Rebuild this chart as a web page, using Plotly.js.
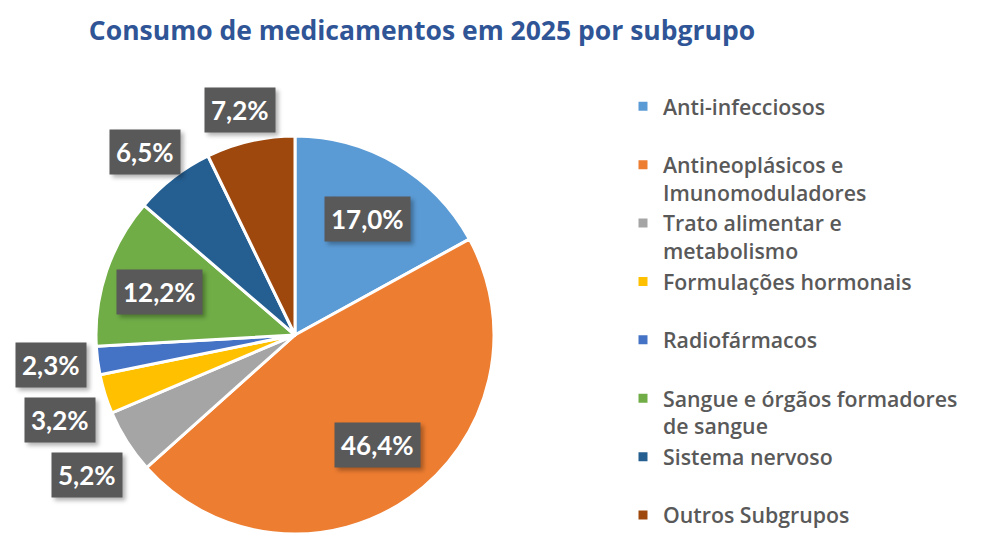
<!DOCTYPE html>
<html>
<head>
<meta charset="utf-8">
<script src="https://cdn.plot.ly/plotly-3.0.1.min.js"></script>
<style>html,body{margin:0;padding:0;background:#fff;}#chart{width:981px;height:534px;}</style>
</head>
<body>
<div id="chart"></div>
<script>
const titleText = "Consumo de medicamentos em 2025 por subgrupo";
const categories = [
  "Anti-infecciosos",
  "Antineoplásicos e<br>Imunomoduladores",
  "Trato alimentar e<br>metabolismo",
  "Formulações hormonais",
  "Radiofármacos",
  "Sangue e órgãos formadores<br>de sangue",
  "Sistema nervoso",
  "Outros Subgrupos"
];
const values = [17.0, 46.4, 5.2, 3.2, 2.3, 12.2, 6.5, 7.2];
const colors = ["#5B9BD5", "#ED7D31", "#A5A5A5", "#FFC000", "#4472C4", "#70AD47", "#255E91", "#9E480E"];

const W = 981, H = 534;
// pie domain in pixels
const pieLeft = 96, pieRight = 494, pieTop = 136, pieBottom = 534;
const cx = (pieLeft + pieRight) / 2, cy = (pieTop + pieBottom) / 2;
const R = (pieRight - pieLeft) / 2;

// legend labels: every item (except the last) occupies two lines
const legendLabels = categories.map((c, i) =>
  (c.indexOf("<br>") >= 0 || i === categories.length - 1) ? c : c + "<br> ");

const fmt = v => v.toFixed(1).replace(".", ",") + "%";

const total = values.reduce((a, b) => a + b, 0);
let cum = 0;
const labelPos = [];
values.forEach((v, i) => {
  const th = 2 * Math.PI * (cum + v / 2) / total;
  cum += v;
  const s = Math.sin(th), c = Math.cos(th);
  const txt = fmt(v);
  const bw = txt.length * 15 + 14, bh = 43;
  let px, py, inside = v / total >= 0.1;
  if (inside) {
    px = cx + 0.72 * R * s;
    py = cy - 0.68 * R * c;
  } else {
    const rr = R + 10;
    px = cx + rr * s + s * bw / 2;
    py = cy - rr * c - c * bh / 2;
  }
  labelPos.push({i, px, py, inside, txt, s});
});
// resolve overlaps of outside labels on the left side (going upward in slice order)
const leftOut = labelPos.filter(p => !p.inside && p.s < 0 && p.py > cy - 50).sort((a, b) => a.py - b.py);
for (let k = 1; k < leftOut.length; k++) {
  if (leftOut[k].py < leftOut[k - 1].py + 55) leftOut[k].py = leftOut[k - 1].py + 55;
}

const annotations = labelPos.map(p => ({
  xref: "paper", yref: "paper",
  x: p.px / W, y: 1 - p.py / H,
  xanchor: "center", yanchor: "middle",
  showarrow: false, text: p.txt,
  font: {family: "Lato, 'Open Sans', sans-serif", size: 26, weight: 700, color: "#FFFFFF"},
  bgcolor: "#595959",
  borderpad: 6
}));

const data = [{
  type: "pie",
  labels: legendLabels,
  values: values,
  sort: false,
  direction: "clockwise",
  rotation: 0,
  textinfo: "none",
  hoverinfo: "label+percent",
  marker: {colors: colors, line: {color: "#FFFFFF", width: 3}},
  domain: {x: [pieLeft / W, pieRight / W], y: [1 - pieBottom / H, 1 - pieTop / H]}
}];

const layout = {
  width: W, height: H,
  margin: {l: 0, r: 0, t: 0, b: 0, autoexpand: false},
  paper_bgcolor: "#FFFFFF",
  showlegend: true,
  title: {
    text: titleText,
    x: 422 / W, xanchor: "center", xref: "paper",
    y: 1 - 31 / H, yanchor: "middle", yref: "paper",
    font: {family: "'Open Sans', sans-serif", size: 26.5, weight: 700, color: "#2F5597"}
  },
  legend: {
    x: 623 / W, xanchor: "left",
    y: 1 - 86 / H, yanchor: "top",
    valign: "top",
    font: {family: "'Open Sans', sans-serif", size: 21.3, weight: 600, color: "#595959"},
    bgcolor: "rgba(0,0,0,0)",
    borderwidth: 0
  },
  annotations: annotations
};

Plotly.newPlot("chart", data, layout, {displayModeBar: false, staticPlot: true}).then(gd => {
  gd.querySelectorAll(".annotation rect.bg").forEach(r => {
    r.style.filter = "drop-shadow(3px 3px 2px rgba(0,0,0,0.3))";
  });
});
</script>
</body>
</html>
